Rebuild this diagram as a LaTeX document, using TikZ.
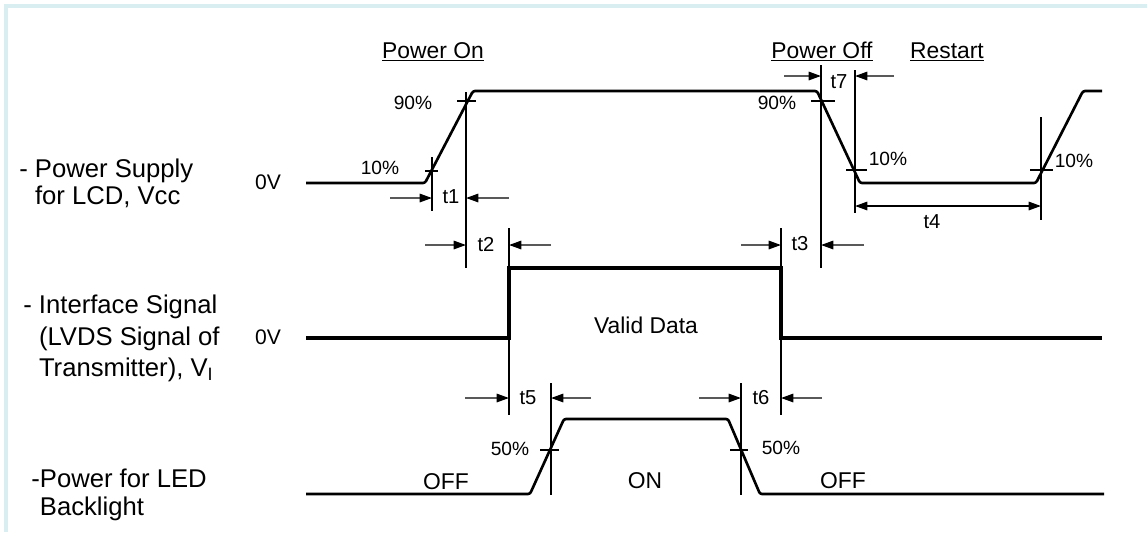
\documentclass[tikz,border=0pt]{standalone}
\usepackage{fontspec}
\setmainfont{Liberation Sans}
\usetikzlibrary{arrows.meta,positioning,calc}
\definecolor{framecyan}{RGB}{217,238,240}

\begin{document}
\begin{tikzpicture}[
    x=0.02cm, y=-0.02cm,
    sig/.style={line width=1.5pt, line join=round, rounded corners=1.2pt},
    lvds/.style={line width=2.3pt, line join=miter},
    refline/.style={line width=0.7pt},
    tickmark/.style={line width=0.9pt},
    dimarr/.style={line width=0.9pt, draw=black!65, -{Triangle[length=7pt,width=4.8pt,color=black]}},
    dimboth/.style={line width=0.9pt, {Triangle[length=7pt,width=4.8pt]}-{Triangle[length=7pt,width=4.8pt]}},
    lbl/.style={inner sep=0pt, align=left, anchor=north west},
    hdr/.style={inner sep=0pt, anchor=base, font=\fontsize{13}{15}\selectfont},
    pct/.style={inner sep=0pt, font=\fontsize{10.9}{13}\selectfont},
    tlab/.style={inner sep=0pt, font=\fontsize{11.5}{13}\selectfont}
]

% Frame
\useasboundingbox (0,0) rectangle (1147,532);
\fill[white] (0,0) rectangle (1147,532);
\fill[framecyan] (4,4) rectangle (1147,8);
\fill[framecyan] (4,4) rectangle (8,532);

% Headers
\node[hdr] (hon) at (433,58) {\underline{Power On}};
\node[hdr] (hoff) at (822,58) {\underline{Power Off}};
\node[hdr] (hrst) at (947,58) {\underline{Restart}};

% Row labels
\node[lbl, font=\fontsize{14.6}{15.3}\selectfont] (lvcc) at (19,159) {- Power Supply\\\hphantom{- }for LCD, Vcc};
\node[lbl, font=\fontsize{14.6}{17.9}\selectfont] (lif) at (23,295) {- Interface Signal\\\hphantom{- }(LVDS Signal of\\\hphantom{- }Transmitter), V\textsubscript{I}};
\node[lbl, font=\fontsize{14.6}{15.9}\selectfont] (lbl) at (31,469) {-Power for LED\\\hphantom{-}Backlight};

% Level labels
\node[tlab, font=\fontsize{12}{14}\selectfont] (zv1) at (268,182) {0V};
\node[tlab, font=\fontsize{12}{14}\selectfont] (zv2) at (268,337) {0V};

% Vcc waveform
\coordinate (vcc0) at (306,183);
\coordinate (vcc1) at (425,183);
\coordinate (vcc2) at (473,91);
\coordinate (vcc3) at (817,91);
\coordinate (vcc4) at (860,183);
\coordinate (vcc5) at (1036,183);
\coordinate (vcc6) at (1083,91);
\coordinate (vcc7) at (1102,91);
\draw[sig] (vcc0) -- (vcc1) -- (vcc2) -- (vcc3) -- (vcc4) -- (vcc5) -- (vcc6) -- (vcc7);

% Interface signal
\coordinate (if0) at (306,338);
\coordinate (if1) at (509,338);
\coordinate (if2) at (509,268);
\coordinate (if3) at (781,268);
\coordinate (if4) at (781,338);
\coordinate (if5) at (1102,338);
\draw[lvds] (if0) -- (if1) -- (if2) -- (if3) -- (if4) -- (if5);

% Backlight
\coordinate (bl0) at (306,494);
\coordinate (bl1) at (530,494);
\coordinate (bl2) at (564,419);
\coordinate (bl3) at (728,419);
\coordinate (bl4) at (760,494);
\coordinate (bl5) at (1104,494);
\draw[sig] (bl0) -- (bl1) -- (bl2) -- (bl3) -- (bl4) -- (bl5);

% Reference lines
\foreach \n/\x/\ya/\yb in {1/432/157/211, 2/466/92/268, 3/509/228/415, 4/551/383/495,
    5/821/65/268, 6/855/70/213, 7/1041/117/220, 8/781/228/415, 9/741/383/495} {
    \coordinate (m\n a) at (\x,\ya);
    \coordinate (m\n b) at (\x,\yb);
    \draw[refline] (m\n a) -- (m\n b);
}

% Level ticks
\foreach \n/\xa/\xb/\y in {1/425/438/171, 2/457/476/101, 3/811/835/101, 4/846/867/170,
    5/1030/1053/170, 6/540/559/450, 7/730/748/450} {
    \coordinate (k\n a) at (\xa,\y);
    \coordinate (k\n b) at (\xb,\y);
    \draw[tickmark] (k\n a) -- (k\n b);
}

% Percent labels
\node[pct] (p10a) at (380,168) {10\%};
\node[pct] (p90a) at (413,103) {90\%};
\node[pct] (p90b) at (777,103) {90\%};
\node[pct] (p10b) at (888,159) {10\%};
\node[pct] (p10c) at (1074,161) {10\%};
\node[pct] (p50a) at (510,449) {50\%};
\node[pct] (p50b) at (781,448) {50\%};

% Timing arrows
\foreach \s/\xa/\xb/\y in {t1l/390/432/198, t1r/509/466/198, t2l/425/466/245, t2r/551/509/245,
    t3l/741/781/245, t3r/864/821/245, t7l/784/821/76, t7r/894/855/76,
    t5l/465/509/398, t5r/591/551/398, t6l/699/741/398, t6r/822/781/398} {
    \coordinate (\s0) at (\xa,\y);
    \coordinate (\s1) at (\xb,\y);
    \draw[dimarr] (\s0) -- (\s1);
}
\coordinate (t4a) at (855,206);
\coordinate (t4b) at (1041,206);
\draw[dimboth] (t4a) -- (t4b);

% Timing labels
\node[tlab] (t1) at (451,197) {t1};
\node[tlab] (t2) at (486,245) {t2};
\node[tlab] (t3) at (800,244) {t3};
\node[tlab] (t7) at (839,82) {t7};
\node[tlab] (t4) at (932,222) {t4};
\node[tlab] (t5) at (528,398) {t5};
\node[tlab] (t6) at (761,398) {t6};

% State labels
\node[tlab, font=\fontsize{13}{15}\selectfont] (vdata) at (646,325) {Valid Data};
\node[tlab, font=\fontsize{13}{15}\selectfont] (off1) at (446,482) {OFF};
\node[tlab, font=\fontsize{13}{15}\selectfont] (on) at (645,481) {ON};
\node[tlab, font=\fontsize{13}{15}\selectfont] (off2) at (843,481) {OFF};

\end{tikzpicture}
\end{document}
